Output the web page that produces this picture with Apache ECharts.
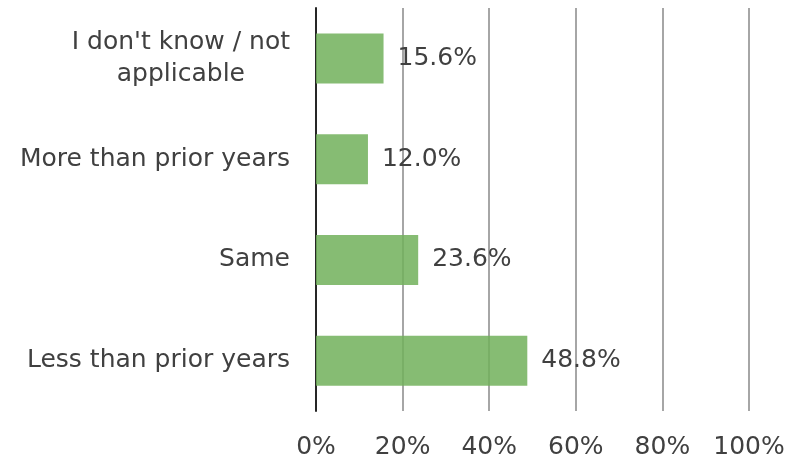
<!DOCTYPE html>
<html>
<head>
<meta charset="utf-8">
<script src="https://cdn.jsdelivr.net/npm/echarts@6/dist/echarts.min.js"></script>
<style>
  html, body { margin: 0; padding: 0; background: #fff; }
  #main { width: 788px; height: 465px; }
</style>
</head>
<body>
<div id="main"></div>
<script>
// bottom to top, as the axis draws them
var categories = ['Less than prior years', 'Same', 'More than prior years', "I don't know / not\napplicable"];
var shares = [48.8, 23.6, 12.0, 15.6];
var tickValues = [0, 20, 40, 60, 80, 100];

var myChart = echarts.init(document.getElementById('main'));
var font = 'DejaVu Sans';

var option = {
    animation: false,
    grid: { left: 316, right: 39, top: 8, bottom: 54 },
    xAxis: {
        type: 'value',
        min: tickValues[0],
        max: tickValues[tickValues.length - 1],
        interval: 20,
        axisLine: { show: false },
        axisTick: { show: false },
        splitLine: { lineStyle: { color: '#a6a6a6', width: 2 } },
        axisLabel: {
            formatter: '{value}%',
            color: '#404040',
            fontFamily: font,
            fontSize: 25,
            margin: 24
        }
    },
    yAxis: {
        type: 'category',
        data: categories,
        axisLine: { lineStyle: { color: '#262626', width: 2 } },
        axisTick: { show: false },
        axisLabel: {
            color: '#404040',
            fontFamily: font,
            fontSize: 25,
            lineHeight: 32,
            margin: 26,
            align: 'right',
            // wrapped labels are centred line by line
            formatter: function (v) {
                if (v.indexOf('\n') < 0) return v;
                return v.split('\n').map(function (s) { return '{c|' + s + '}'; }).join('\n');
            },
            rich: {
                c: { align: 'center', color: '#404040', fontFamily: font, fontSize: 25, lineHeight: 32 }
            }
        }
    },
    series: [{
        type: 'bar',
        data: shares,
        barWidth: 50,
        itemStyle: { color: 'rgba(113,176,91,0.85)' },
        label: {
            show: true,
            position: 'right',
            distance: 14,
            formatter: function (p) { return p.value.toFixed(1) + '%'; },
            color: '#404040',
            fontFamily: font,
            fontSize: 25
        }
    }]
};

myChart.setOption(option);
</script>
</body>
</html>
